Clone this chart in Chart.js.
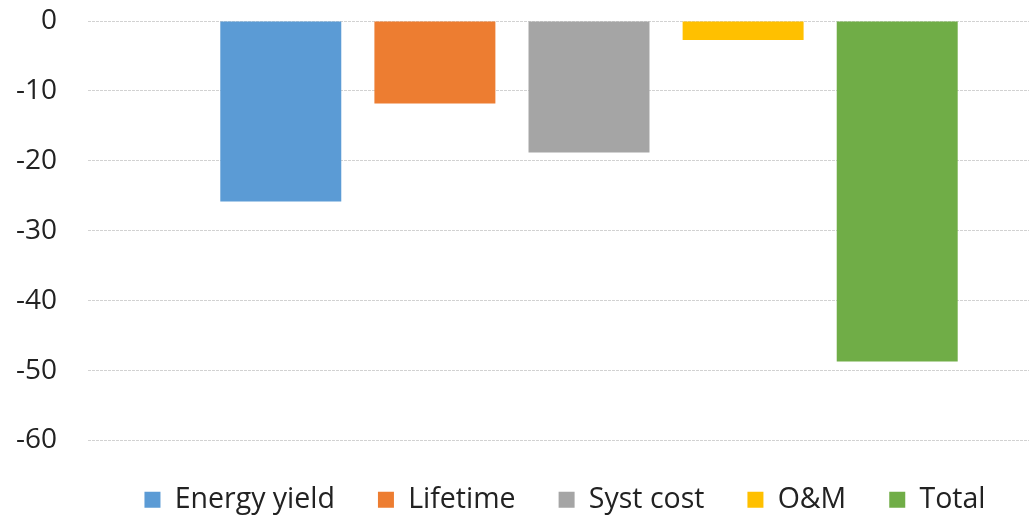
<!DOCTYPE html>
<html>
<head>
<meta charset="utf-8">
<script src="https://cdn.jsdelivr.net/npm/chart.js@4/dist/chart.umd.min.js"></script>
<style>
    html, body { margin: 0; padding: 0; background: #fff; }
    #wrap { width: 1029px; height: 517px; overflow: hidden; position: relative; }
    #box { position: absolute; left: 0; top: 0; width: 1090px; height: 517px; }
</style>
</head>
<body>
<div id="wrap"><div id="box"><canvas id="impactChart"></canvas></div></div>
<script>
const categories = [""];
const seriesNames = ["Energy yield", "Lifetime", "Syst cost", "O&M", "Total"];
const seriesValues = [-25.8, -11.8, -18.8, -2.7, -48.7];
const seriesColors = ["#5B9BD5", "#ED7D31", "#A5A5A5", "#FFC000", "#70AD47"];
const yTicks = [0, -10, -20, -30, -40, -50, -60];

const fontFamily = "'Open Sans', 'DejaVu Sans', sans-serif";

// the legend in the original sits a little right of the canvas centre
const legendShift = {
    id: "legendShift",
    afterLayout(chart) {
        chart.legend.left += 20;
        chart.legend.right += 20;
        chart.legend.top += 2;
        chart.legend.bottom += 2;
    }
};

const ctx = document.getElementById("impactChart").getContext("2d");
new Chart(ctx, {
    type: "bar",
    data: {
        labels: categories,
        datasets: seriesNames.map((name, i) => ({
            label: name,
            data: [seriesValues[i]],
            backgroundColor: seriesColors[i],
            borderWidth: 0,
            categoryPercentage: 0.769,
            barPercentage: 0.785
        }))
    },
    options: {
        responsive: true,
        maintainAspectRatio: false,
        animation: false,
        layout: { padding: { left: 0, top: 21, right: 0, bottom: -5 } },
        plugins: {
            tooltip: { enabled: false },
            legend: {
                position: "bottom",
                labels: {
                    boxWidth: 16,
                    boxHeight: 16,
                    padding: 43,
                    color: "#222",
                    font: { family: fontFamily, size: 28.5 }
                }
            }
        },
        scales: {
            x: { display: false },
            y: {
                min: Math.min(...yTicks),
                max: Math.max(...yTicks),
                afterFit: scale => {
                    scale.width = 88;
                    scale.paddingTop = 0;
                    scale.paddingBottom = 0;
                },
                afterBuildTicks: scale => { scale.ticks = yTicks.map(v => ({ value: v })); },
                border: { display: false, dash: [3, 1] },
                grid: { color: "#D2D2D2", lineWidth: 1, drawTicks: false },
                ticks: {
                    padding: 31,
                    autoSkip: false,
                    color: "#222",
                    font: { family: fontFamily, size: 28 }
                }
            }
        }
    },
    plugins: [legendShift]
});
</script>
</body>
</html>
